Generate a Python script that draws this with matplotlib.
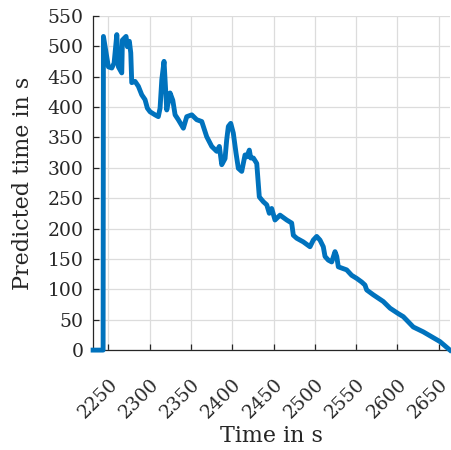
import matplotlib
matplotlib.use("Agg")
import matplotlib.pyplot as plt
import matplotlib.transforms as mtransforms

plt.rcParams['font.family'] = ['DejaVu Serif']

# time in s
t = [2231.5, 2243.6, 2244.0, 2250.0, 2254.1, 2256.9, 2260.2, 2262.1, 2266.2, 2267.0,
     2271.4, 2273.0, 2275.4, 2277.1, 2278.3, 2282.3, 2286.3, 2290.4, 2294.4, 2297.2,
     2300.5, 2306.5, 2310.5, 2312.6, 2314.7, 2317.4, 2320.7, 2324.7, 2328.0, 2330.8,
     2334.7, 2340.8, 2344.9, 2351.0, 2357.0, 2363.1, 2369.1, 2375.2, 2381.2, 2384.4,
     2387.3, 2391.3, 2393.3, 2395.3, 2398.2, 2401.3, 2404.6, 2407.4, 2411.5, 2415.5,
     2417.6, 2420.7, 2422.4, 2425.6, 2429.7, 2432.8, 2437.7, 2441.8, 2444.9, 2447.8,
     2451.8, 2457.9, 2466.0, 2472.0, 2474.0, 2478.1, 2486.1, 2494.2, 2498.2, 2502.3,
     2506.3, 2510.3, 2512.4, 2516.4, 2520.5, 2524.5, 2526.6, 2528.5, 2534.5, 2538.6,
     2544.7, 2550.7, 2556.8, 2560.8, 2562.8, 2570.8, 2582.9, 2591.1, 2601.1, 2607.2,
     2619.3, 2631.4, 2641.5, 2651.6, 2663.7]
# predicted time in s
pred = [0, 0, 516, 466, 464, 472, 519, 466, 456, 510,
        516, 499, 508, 489, 440, 442, 434, 420, 412, 398,
        392, 387, 384, 398, 445, 475, 395, 423, 411, 387,
        379, 365, 384, 387, 379, 376, 351, 335, 327, 335,
        305, 315, 346, 368, 373, 357, 324, 299, 294, 321,
        318, 329, 316, 316, 307, 252, 244, 239, 225, 233,
        214, 222, 214, 209, 189, 184, 178, 170, 181, 187,
        181, 170, 154, 148, 145, 162, 154, 137, 134, 132,
        123, 118, 112, 107, 99, 91, 80, 69, 60, 55,
        38, 30, 22, 14, 0]

xticks = [2250, 2300, 2350, 2400, 2450, 2500, 2550, 2600, 2650]
yticks = [0, 50, 100, 150, 200, 250, 300, 350, 400, 450, 500, 550]

fig = plt.figure(figsize=(4.52, 4.50), dpi=100)
ax = fig.add_axes([0.206, 0.222, 0.79, 0.743])

ax.plot(t, pred, color='#0072BD', lw=3.5, solid_joinstyle='round', clip_on=False, zorder=3)

ax.set_xlim(2231.5, 2664)
ax.set_ylim(0, 550)
ax.set_xticks(xticks)
ax.set_yticks(yticks)
ax.set_xticklabels([str(v) for v in xticks], rotation=45, ha='right', va='top',
                   rotation_mode='anchor')
shift = mtransforms.ScaledTranslation(0.15, 0, fig.dpi_scale_trans)
for lab in ax.get_xticklabels():
    lab.set_transform(lab.get_transform() + shift)

ax.grid(True, color='#dcdcdc', lw=0.9)
ax.set_axisbelow(True)
ax.spines['top'].set_visible(False)
ax.spines['right'].set_visible(False)
for s in ['left', 'bottom']:
    ax.spines[s].set_color('#262626')
    ax.spines[s].set_linewidth(0.9)
ax.tick_params(direction='in', length=4, width=0.9, colors='#262626', labelsize=13.5)
ax.tick_params(axis='y', pad=7)
ax.tick_params(axis='x', pad=18)

ax.set_xlabel('Time in s', fontsize=16, color='#262626', labelpad=2)
ax.set_ylabel('Predicted time in s', fontsize=16, color='#262626', labelpad=10)

fig.savefig('out.png', dpi=100)
